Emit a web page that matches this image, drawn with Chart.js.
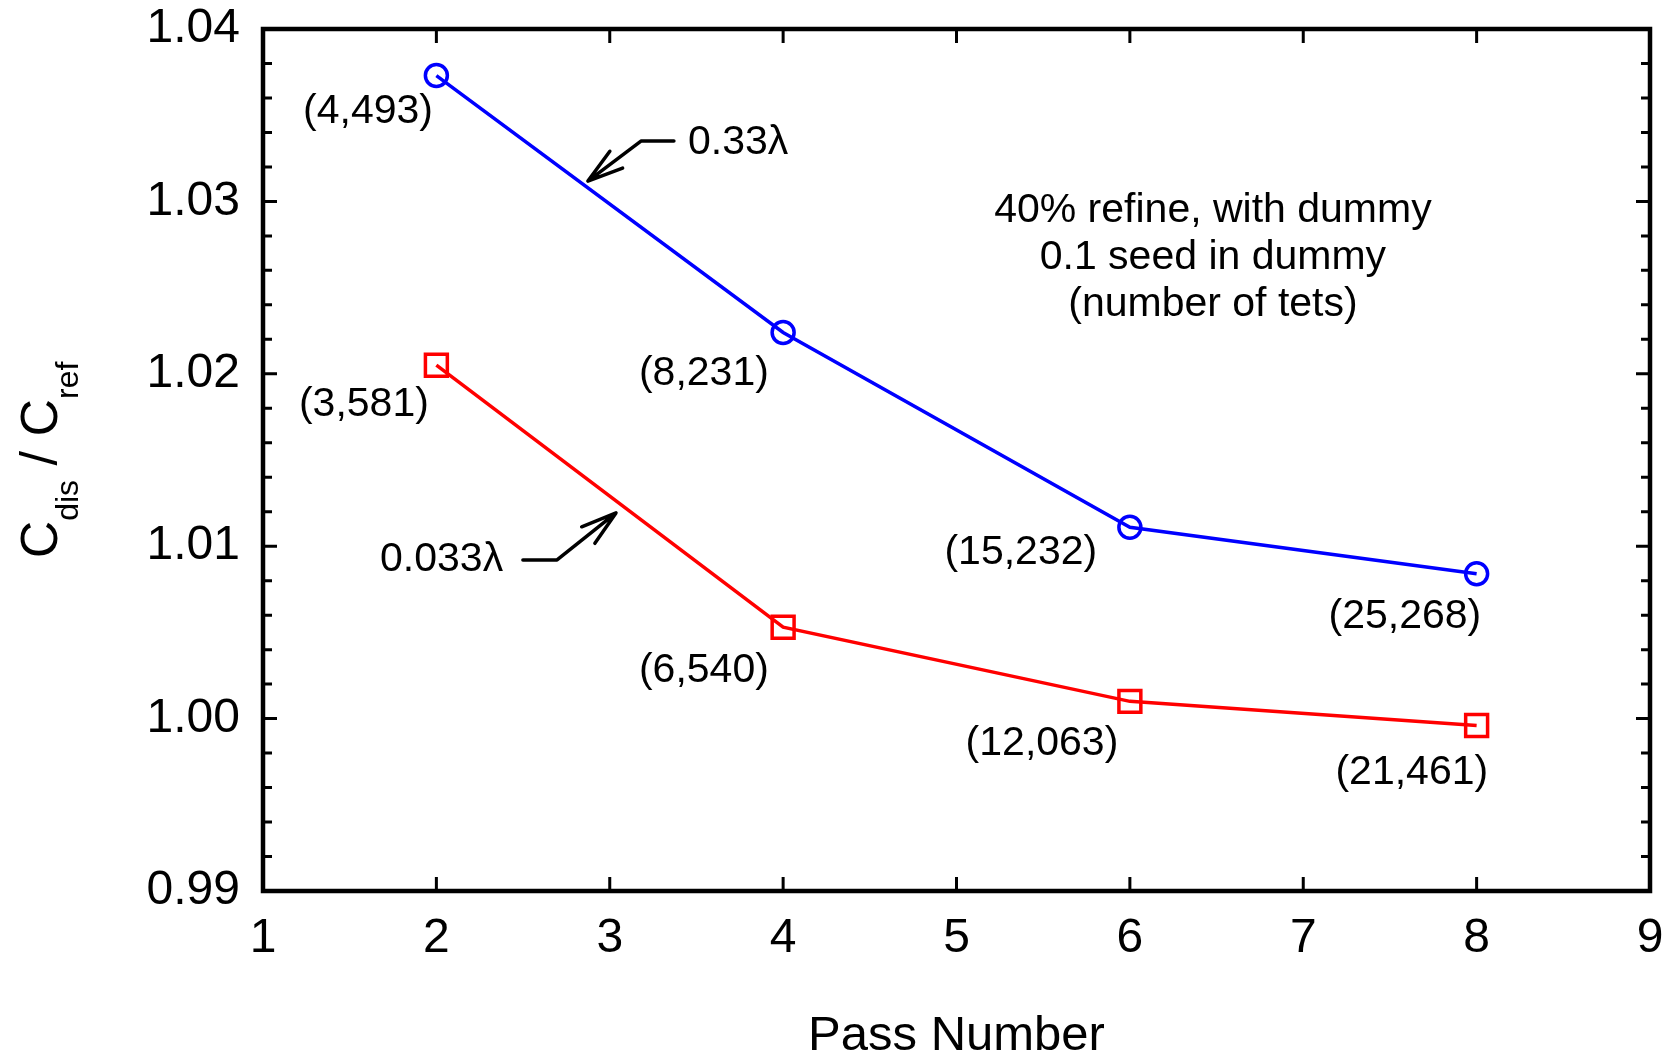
<!DOCTYPE html>
<html>
<head>
<meta charset="utf-8">
<title>Capacitance ratio vs pass number</title>
<script src="https://cdn.jsdelivr.net/npm/chart.js@4.4.0/dist/chart.umd.min.js"></script>
<style>
  body { margin: 0; background: #fff; }
  #wrap { width: 1671px; height: 1060px; }
</style>
</head>
<body>
<div id="wrap"><canvas id="chart" width="1671" height="1060"></canvas></div>
<script>
// Pass numbers and C_dis / C_ref for the two seed sizes
const passNumbers = [2, 4, 6, 8];
const coarseRatio = [1.0373, 1.0224, 1.0111, 1.0084]; // 0.33 lambda
const fineRatio = [1.0205, 1.0053, 1.0010, 0.9996];   // 0.033 lambda

// Tet counts printed next to each point, with where they sit (data units)
const coarseTets = ['(4,493)', '(8,231)', '(15,232)', '(25,268)'];
const coarseTetX = [1.606, 3.543, 5.371, 7.586];
const coarseTetY = [1.0352, 1.0200, 1.0096, 1.0059];
const fineTets = ['(3,581)', '(6,540)', '(12,063)', '(21,461)'];
const fineTetX = [1.582, 3.543, 5.493, 7.626];
const fineTetY = [1.0182, 1.0028, 0.99853, 0.99684];

// Note block in the upper right
const noteLines = ['40% refine, with dummy', '0.1 seed in dummy', '(number of tets)'];
const noteX = 6.479;
const noteY = [1.02944, 1.02672, 1.0240];

// Series call-outs: label anchor plus a bent arrow (tail -> elbow -> tip)
const callouts = [
  { text: '0.33\u03bb', x: 3.451, y: 1.0334, arrowX: [3.370, 3.180, 2.874], arrowY: [1.0335, 1.0335, 1.03118] },
  { text: '0.033\u03bb', x: 1.675, y: 1.0092, arrowX: [2.499, 2.696, 3.036], arrowY: [1.0092, 1.0092, 1.01193] },
];

// Axis ranges and ticks
const xMin = 1, xMax = 9, xStep = 1;
const yMin = 0.99, yMax = 1.04, yStep = 0.01, yMinorStep = 0.002;

const FONT = '"Liberation Sans", Arial, Helvetica, sans-serif';

const toPoints = (xs, ys) => xs.map((x, i) => ({ x, y: ys[i] }));

// keep the plot box fixed: no extra room reserved for overhanging tick labels
function fixScaleBox(scale, size) {
  if (scale.isHorizontal()) scale.height = size;
  else scale.width = size;
  scale.paddingTop = 0;
  scale.paddingBottom = 0;
  scale.paddingLeft = 0;
  scale.paddingRight = 0;
}

const decorPlugin = {
  id: 'decor',
  afterDatasetsDraw(chart) {
    const { ctx, chartArea: a, scales: { x, y } } = chart;
    ctx.save();

    // frame
    ctx.strokeStyle = '#000';
    ctx.lineWidth = 4.5;
    ctx.strokeRect(a.left, a.top, a.right - a.left, a.bottom - a.top);

    // inward ticks on all four sides
    ctx.lineWidth = 3;
    ctx.beginPath();
    for (let v = xMin; v <= xMax + 1e-9; v += xStep) {
      const px = x.getPixelForValue(v);
      ctx.moveTo(px, a.bottom); ctx.lineTo(px, a.bottom - 14);
      ctx.moveTo(px, a.top); ctx.lineTo(px, a.top + 14);
    }
    const nMinor = Math.round((yMax - yMin) / yMinorStep);
    for (let i = 0; i <= nMinor; i++) {
      const v = yMin + i * yMinorStep;
      const py = y.getPixelForValue(v);
      const len = i % Math.round(yStep / yMinorStep) === 0 ? 14 : 9;
      ctx.moveTo(a.left, py); ctx.lineTo(a.left + len, py);
      ctx.moveTo(a.right, py); ctx.lineTo(a.right - len, py);
    }
    ctx.stroke();

    // tet counts
    ctx.fillStyle = '#000';
    ctx.font = '41px ' + FONT;
    ctx.textAlign = 'center';
    ctx.textBaseline = 'middle';
    coarseTets.forEach((t, i) => ctx.fillText(t, x.getPixelForValue(coarseTetX[i]), y.getPixelForValue(coarseTetY[i])));
    fineTets.forEach((t, i) => ctx.fillText(t, x.getPixelForValue(fineTetX[i]), y.getPixelForValue(fineTetY[i])));

    // note block
    noteLines.forEach((t, i) => ctx.fillText(t, x.getPixelForValue(noteX), y.getPixelForValue(noteY[i])));

    // call-outs
    ctx.textAlign = 'left';
    ctx.lineWidth = 3.5;
    ctx.lineCap = 'round';
    ctx.lineJoin = 'round';
    callouts.forEach((c) => {
      ctx.fillText(c.text, x.getPixelForValue(c.x), y.getPixelForValue(c.y));
      const px = c.arrowX.map((v) => x.getPixelForValue(v));
      const py = c.arrowY.map((v) => y.getPixelForValue(v));
      ctx.beginPath();
      ctx.moveTo(px[0], py[0]);
      ctx.lineTo(px[1], py[1]);
      ctx.lineTo(px[2], py[2]);
      const ang = Math.atan2(py[1] - py[2], px[1] - px[2]);
      const head = 37, spread = 0.29;
      ctx.moveTo(px[2] + head * Math.cos(ang - spread), py[2] + head * Math.sin(ang - spread));
      ctx.lineTo(px[2], py[2]);
      ctx.lineTo(px[2] + head * Math.cos(ang + spread), py[2] + head * Math.sin(ang + spread));
      ctx.stroke();
    });

    // x axis title
    ctx.textAlign = 'center';
    ctx.font = '49px ' + FONT;
    ctx.fillText('Pass Number', (a.left + a.right) / 2, 1036);

    // y axis title: C_dis / C_ref with subscripts, rotated
    const parts = [
      { t: 'C', size: 52, dy: 0 },
      { t: 'dis', size: 32, dy: 21 },
      { t: ' / ', size: 52, dy: 0 },
      { t: 'C', size: 52, dy: 0 },
      { t: 'ref', size: 32, dy: 21 },
    ];
    ctx.textBaseline = 'alphabetic';
    ctx.textAlign = 'left';
    let total = 0;
    parts.forEach((p) => { ctx.font = p.size + 'px ' + FONT; p.w = ctx.measureText(p.t).width; total += p.w; });
    ctx.translate(57, (a.top + a.bottom) / 2);
    ctx.rotate(-Math.PI / 2);
    let cx = -total / 2;
    parts.forEach((p) => {
      ctx.font = p.size + 'px ' + FONT;
      ctx.fillText(p.t, cx, p.dy);
      cx += p.w;
    });

    ctx.restore();
  },
};

new Chart(document.getElementById('chart'), {
  type: 'line',
  data: {
    datasets: [
      {
        label: '0.33\u03bb',
        data: toPoints(passNumbers, coarseRatio),
        borderColor: '#0000ff',
        backgroundColor: 'rgba(0,0,0,0)',
        borderWidth: 3.5,
        pointStyle: 'circle',
        pointRadius: 11,
        pointBorderWidth: 3.5,
        pointBorderColor: '#0000ff',
        pointBackgroundColor: 'rgba(0,0,0,0)',
        tension: 0,
      },
      {
        label: '0.033\u03bb',
        data: toPoints(passNumbers, fineRatio),
        borderColor: '#ff0000',
        backgroundColor: 'rgba(0,0,0,0)',
        borderWidth: 3.5,
        pointStyle: 'rect',
        pointRadius: 15.5,
        pointBorderWidth: 3.5,
        pointBorderColor: '#ff0000',
        pointBackgroundColor: 'rgba(0,0,0,0)',
        tension: 0,
      },
    ],
  },
  options: {
    responsive: false,
    animation: false,
    devicePixelRatio: 1,
    layout: { padding: { top: 29, right: 21, left: 0, bottom: 0 } },
    plugins: {
      legend: { display: false },
      tooltip: { enabled: false },
    },
    scales: {
      x: {
        type: 'linear',
        min: xMin,
        max: xMax,
        grid: { display: false, drawTicks: false },
        border: { display: false },
        ticks: {
          stepSize: xStep,
          color: '#000',
          font: { family: FONT, size: 48 },
          padding: 19,
          maxRotation: 0,
        },
        afterFit(scale) { fixScaleBox(scale, 169); },
      },
      y: {
        type: 'linear',
        min: yMin,
        max: yMax,
        grid: { display: false, drawTicks: false },
        border: { display: false },
        ticks: {
          stepSize: yStep,
          color: '#000',
          font: { family: FONT, size: 48 },
          padding: 23,
          callback: (v) => v.toFixed(2),
        },
        afterFit(scale) { fixScaleBox(scale, 263); },
      },
    },
  },
  plugins: [decorPlugin],
});
</script>
</body>
</html>
